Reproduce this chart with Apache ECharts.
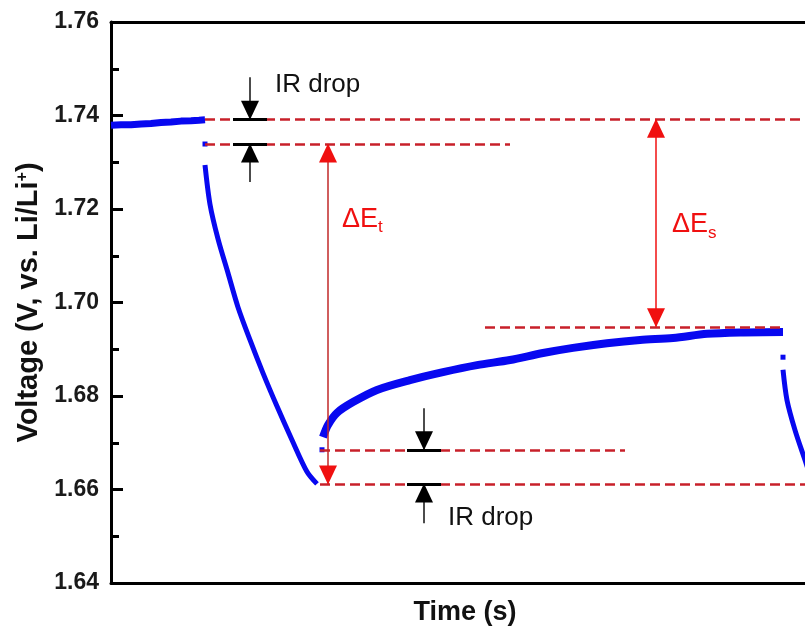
<!DOCTYPE html>
<html>
<head>
<meta charset="utf-8">
<script src="https://cdn.jsdelivr.net/npm/echarts@6/dist/echarts.min.js"></script>
<style>
  html, body { margin: 0; padding: 0; background: #fff; }
  #main { width: 805px; height: 641px; }
</style>
</head>
<body>
<div id="main"></div>
<script>
// time axis in arbitrary seconds, voltage in V vs Li/Li+
var yTicks = [1.64, 1.66, 1.68, 1.70, 1.72, 1.74, 1.76];

// rest before the pulse
var restTime = [0, 10, 20, 30, 40, 50, 60, 70, 80, 88, 94];
var restVolt = [1.7379, 1.7380, 1.7380, 1.7382, 1.7383, 1.7385, 1.7386, 1.7388, 1.7389, 1.7390, 1.7391];

// current pulse
var pulseTime = [94, 99, 107, 117, 127, 139, 152, 166, 181, 196, 206];
var pulseVolt = [1.7294, 1.7210, 1.7136, 1.7063, 1.6990, 1.6920, 1.6849, 1.6778, 1.6706, 1.6638, 1.6612];

// relaxation
var relaxTime = [212, 217, 226, 242, 266, 299, 332, 366, 399, 432, 462, 496, 529, 562, 596, 629, 672];
var relaxVolt = [1.6712, 1.6738, 1.6764, 1.6787, 1.6813, 1.6834, 1.6851, 1.6866, 1.6877, 1.6892, 1.6903, 1.6913, 1.6920, 1.6924, 1.6933, 1.6936, 1.6937];

// next pulse (runs off the right edge)
var pulse2Time = [672, 676, 684, 694, 704];
var pulse2Volt = [1.6856, 1.6791, 1.6727, 1.6663, 1.6599];

// isolated points right after the current switches
var jumpTime = [94, 211, 672];
var jumpVolt = [1.7339, 1.6685, 1.6883];

// red dashed reference levels
var refLevel = [1.7392, 1.7339, 1.6948, 1.6685, 1.6612];
var refStart = [94, 94, 374, 209, 209];
var refEnd = [694, 399, 674, 514, 694];

// red double arrows (delta E_t, delta E_s)
var deltaX = [217, 545];
var deltaTop = [1.7339, 1.7392];
var deltaBottom = [1.6612, 1.6948];

// black IR drop arrows
var irX = [139, 313];
var irUpper = [1.7392, 1.6685];
var irLower = [1.7339, 1.6612];
var irFromAbove = [1.7482, 1.6774];
var irFromBelow = [1.7258, 1.6528];
var irHalfBar = 17;

// text labels
var labelX = [164, 337, 231, 561];
var labelV = [1.7465, 1.6539, 1.7177, 1.7166];
var labelText = ['IR drop', 'IR drop', '{d|ΔE}{s|t}', '{d|ΔE}{s|s}'];
var labelColor = ['#111', '#111', '#e01c1c', '#e01c1c'];

function pairs(xs, ys) {
  return xs.map(function (x, i) { return [x, ys[i]]; });
}

var FONT = '"Liberation Sans", Arial, sans-serif';
var BLUE = '#0808f0';
var DASH_RED = '#c8202a';
var RED = '#f01010';

var markLines = [];
refLevel.forEach(function (v, i) {
  markLines.push([{ coord: [refStart[i], v], lineStyle: { color: DASH_RED, width: 2.5, type: [10, 5], opacity: 1 } },
                  { coord: [refEnd[i], v] }]);
});
deltaX.forEach(function (x, i) {
  markLines.push([{ coord: [x, deltaTop[i]], lineStyle: { color: i === 0 ? '#c02828' : RED, width: 1.5, type: 'solid', opacity: 1 } },
                  { coord: [x, deltaBottom[i]] }]);
});
irX.forEach(function (x, i) {
  var st = { color: '#111', width: 1.5, type: 'solid', opacity: 1 };
  var bar = { color: '#000', width: 3, type: 'solid', opacity: 1 };
  markLines.push([{ coord: [x, irFromAbove[i]], lineStyle: st }, { coord: [x, irUpper[i]] }]);
  markLines.push([{ coord: [x, irFromBelow[i]], lineStyle: st }, { coord: [x, irLower[i]] }]);
  markLines.push([{ coord: [x - irHalfBar, irUpper[i]], lineStyle: bar }, { coord: [x + irHalfBar, irUpper[i]] }]);
  markLines.push([{ coord: [x - irHalfBar, irLower[i]], lineStyle: bar }, { coord: [x + irHalfBar, irLower[i]] }]);
});

// triangle tips
var upTips = [], downTips = [];
deltaX.forEach(function (x, i) {
  upTips.push({ value: [x, deltaTop[i]], itemStyle: { color: RED, opacity: 1 } });
  downTips.push({ value: [x, deltaBottom[i]], itemStyle: { color: RED, opacity: 1 } });
});
irX.forEach(function (x, i) {
  downTips.push({ value: [x, irUpper[i]], itemStyle: { color: '#000', opacity: 1 } });
  upTips.push({ value: [x, irLower[i]], itemStyle: { color: '#000', opacity: 1 } });
});

var labels = labelX.map(function (x, i) {
  return {
    value: [x, labelV[i]],
    label: { color: labelColor[i] }
  };
});

var dataLine = function (xs, ys, w, sm) {
  return {
    type: 'line', data: pairs(xs, ys), showSymbol: false, smooth: sm,
    lineStyle: { color: BLUE, width: w }, z: 3, silent: true
  };
};

var option = {
  animation: false,
  backgroundColor: '#fff',
  grid: { left: 111, top: 22, bottom: 58, right: 0 },
  xAxis: [{
    type: 'value', min: 0, max: 694,
    name: 'Time (s)', nameLocation: 'middle', nameGap: 16,
    nameTextStyle: { fontFamily: FONT, fontWeight: 'bold', fontSize: 27, color: '#111', padding: [0, 0, 0, 14] },
    axisLine: { lineStyle: { color: '#000', width: 3 } },
    axisTick: { show: false }, axisLabel: { show: false }, splitLine: { show: false }
  }, {
    type: 'value', min: 0, max: 694, position: 'top',
    axisLine: { lineStyle: { color: '#000', width: 3 } },
    axisTick: { show: false }, axisLabel: { show: false }, splitLine: { show: false }
  }],
  yAxis: {
    type: 'value', min: yTicks[0], max: yTicks[yTicks.length - 1], interval: 0.02,
    name: '{n|Voltage (V, vs. Li/Li}{p|+}{n|)}', nameLocation: 'middle', nameGap: 67,
    nameTextStyle: {
      rich: {
        n: { fontFamily: FONT, fontWeight: 'bold', fontSize: 29, color: '#111' },
        p: { fontFamily: FONT, fontWeight: 'bold', fontSize: 16, color: '#111', verticalAlign: 'top' }
      }
    },
    axisLine: { lineStyle: { color: '#000', width: 3 } },
    axisTick: { inside: true, length: 12, lineStyle: { color: '#000', width: 3 } },
    minorTick: { show: true, splitNumber: 2, length: 8, lineStyle: { color: '#000', width: 3 } },
    axisLabel: {
      margin: 12, fontFamily: FONT, fontWeight: 'bold', fontSize: 23, color: '#1a1a1a',
      formatter: function (v) { return v.toFixed(2); }
    },
    splitLine: { show: false }
  },
  series: [
    dataLine(restTime, restVolt, 7, false),
    dataLine(pulseTime, pulseVolt, 5, 0.3),
    dataLine(relaxTime, relaxVolt, 8, 0.3),
    dataLine(pulse2Time, pulse2Volt, 5, 0.3),
    {
      type: 'scatter', data: pairs(jumpTime, jumpVolt), symbol: 'rect', symbolSize: 5,
      itemStyle: { color: BLUE, opacity: 1 }, z: 3, silent: true
    },
    {
      type: 'line', data: [], silent: true, z: 4,
      markLine: { silent: true, symbol: ['none', 'none'], label: { show: false }, animation: false, data: markLines }
    },
    {
      type: 'scatter', data: upTips, symbol: 'triangle', symbolSize: [18, 19],
      symbolOffset: [0, 9], z: 5, silent: true
    },
    {
      type: 'scatter', data: downTips, symbol: 'triangle', symbolSize: [18, 19], symbolRotate: 180,
      symbolOffset: [0, -9], z: 5, silent: true
    },
    {
      type: 'scatter', data: labels, symbolSize: 0, z: 6, silent: true,
      itemStyle: { opacity: 1 },
      label: {
        show: true, position: 'right', distance: 0,
        formatter: function (p) { return labelText[p.dataIndex]; },
        fontFamily: FONT, fontSize: 26,
        rich: {
          d: { fontFamily: FONT, fontSize: 27, color: RED },
          s: { fontFamily: FONT, fontSize: 17, color: RED, verticalAlign: 'bottom', padding: [16, 0, 0, 0] }
        }
      }
    }
  ]
};

echarts.init(document.getElementById('main')).setOption(option);
</script>
</body>
</html>
